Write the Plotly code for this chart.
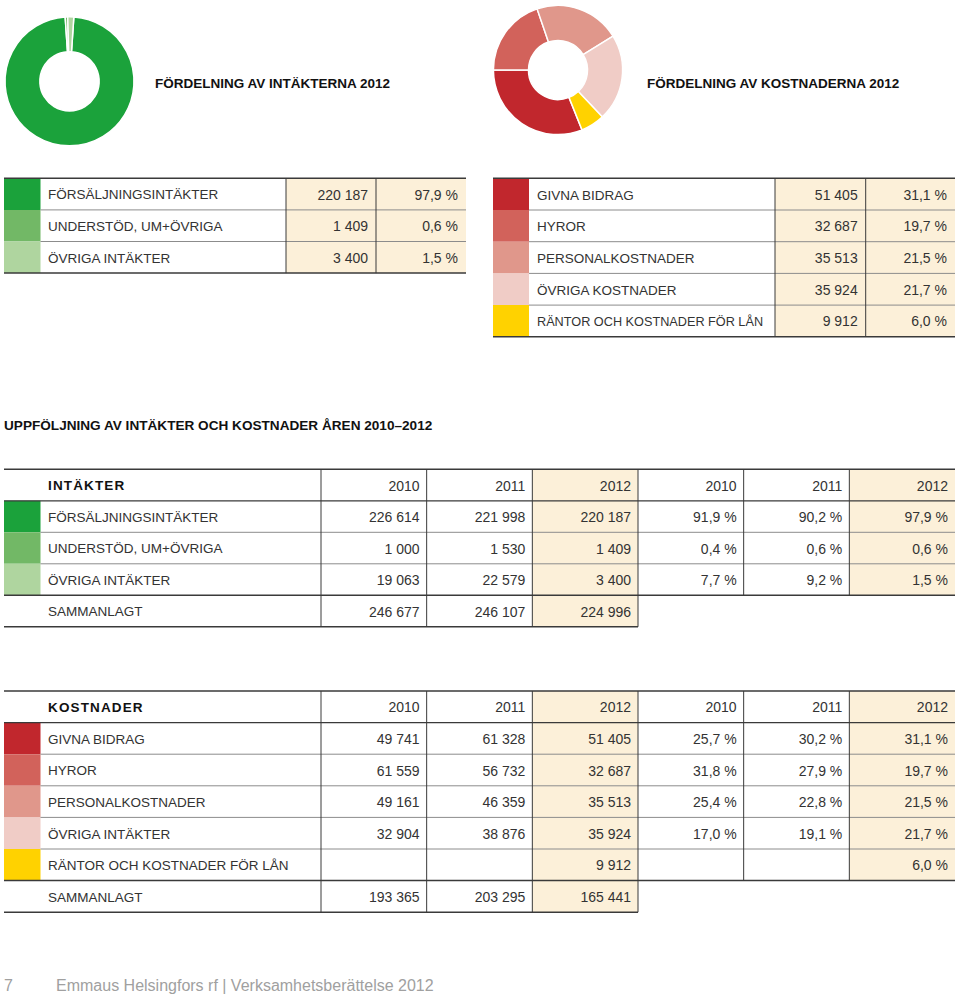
import plotly.graph_objects as go

# ---------------- data ----------------
inc_labels = ["FÖRSÄLJNINGSINTÄKTER", "UNDERSTÖD, UM+ÖVRIGA", "ÖVRIGA INTÄKTER"]
inc_colors = ["#1ba23b", "#72b866", "#afd59f"]
inc_2012 = [220187, 1409, 3400]
inc_pct_2012 = [97.9, 0.6, 1.5]

cost_labels = ["GIVNA BIDRAG", "HYROR", "PERSONALKOSTNADER", "ÖVRIGA KOSTNADER",
               "RÄNTOR OCH KOSTNADER FÖR LÅN"]
cost_colors = ["#c1272d", "#d2625b", "#e0978b", "#f0ccc6", "#ffd200"]
cost_2012 = [51405, 32687, 35513, 35924, 9912]
cost_pct_2012 = [31.1, 19.7, 21.5, 21.7, 6.0]

years = ["2010", "2011", "2012"]
inc_2010 = [226614, 1000, 19063]
inc_2011 = [221998, 1530, 22579]
inc_pct_2010 = [91.9, 0.4, 7.7]
inc_pct_2011 = [90.2, 0.6, 9.2]
inc_totals = [246677, 246107, 224996]

cost_hist_labels = ["GIVNA BIDRAG", "HYROR", "PERSONALKOSTNADER", "ÖVRIGA INTÄKTER",
                    "RÄNTOR OCH KOSTNADER FÖR LÅN"]
cost_2010 = [49741, 61559, 49161, 32904, None]
cost_2011 = [61328, 56732, 46359, 38876, None]
cost_pct_2010 = [25.7, 31.8, 25.4, 17.0, None]
cost_pct_2011 = [30.2, 27.9, 22.8, 19.1, None]
cost_totals = [193365, 203295, 165441]

title_inc = "FÖRDELNING AV INTÄKTERNA 2012"
title_cost = "FÖRDELNING AV KOSTNADERNA 2012"
title_hist = "UPPFÖLJNING AV INTÄKTER OCH KOSTNADER ÅREN 2010–2012"
hdr_inc = "INTÄKTER"
hdr_cost = "KOSTNADER"
total_label = "SAMMANLAGT"
footer_page = "7"
footer_text = "Emmaus Helsingfors rf | Verksamhetsberättelse 2012"

# ---------------- style / layout ----------------
W, H = 960, 995
DARK = "#3a3a3a"
GRAY = "#8c8c8c"
BEIGE = "#fcf0d9"
TXT = "#333333"
FONT = "Liberation Sans"
LBL_SIZE = 13.5
COND_SIZE = 12.7   # long labels condensed to fit the narrow 2012 tables
NUM_SIZE = 14
PAD = 8
TY = 2  # text vertical nudge


def fmt_n(v):
    return "" if v is None else f"{v:,}".replace(",", " ")


def fmt_p(v):
    return "" if v is None else f"{v:.1f} %".replace(".", ",")


shapes_fill, shapes_line = [], []
left_txt = {"x": [], "y": [], "t": [], "s": []}
right_txt = {"x": [], "y": [], "t": [], "s": []}
bold_txt = {"x": [], "y": [], "t": [], "s": []}


def rect(x0, x1, y0, y1, color):
    shapes_fill.append(dict(type="rect", xref="x", yref="y", x0=x0, x1=x1, y0=y0, y1=y1,
                            fillcolor=color, line=dict(width=0), layer="below"))


def hline(x0, x1, y, color, width):
    shapes_line.append(dict(type="line", xref="x", yref="y", x0=x0, x1=x1, y0=y, y1=y,
                            line=dict(color=color, width=width), layer="below"))


def vline(x, y0, y1, color, width):
    shapes_line.append(dict(type="line", xref="x", yref="y", x0=x, x1=x, y0=y0, y1=y1,
                            line=dict(color=color, width=width), layer="below"))


def put(store, x, y, t, size):
    if t == "":
        return
    store["x"].append(x)
    store["y"].append(y + TY)
    store["t"].append(t)
    store["s"].append(size)


def small_table(x0, xs, xl, cols, y0, rh, labels, colors, values, pcts):
    n = len(labels)
    y_end = y0 + n * rh
    rect(cols[0], cols[2], y0, y_end, BEIGE)
    for i, c in enumerate(colors):
        rect(x0, xs, y0 + i * rh, y0 + (i + 1) * rh, c)
    for i in range(1, n):
        hline(xs, cols[2], y0 + i * rh, GRAY, 1)
    hline(x0, cols[2], y0, DARK, 1.5)
    hline(x0, cols[2], y_end, DARK, 1.5)
    for c in cols[:2]:
        vline(c, y0, y_end, DARK, 1)
    for i in range(n):
        yc = y0 + (i + 0.5) * rh
        size = LBL_SIZE if len(labels[i]) <= 24 else COND_SIZE
        put(left_txt, xl, yc, labels[i], size)
        put(right_txt, cols[1] - PAD, yc, fmt_n(values[i]), NUM_SIZE)
        put(right_txt, cols[2] - PAD, yc, fmt_p(pcts[i]), NUM_SIZE)


def big_table(y0, rh, header, labels, colors, vals, pcts, totals):
    X0, XS, XL, C0, XR = 4, 40.5, 48, 321, 955
    cw = (XR - C0) / 6
    e = [C0 + k * cw for k in range(7)]
    n = len(labels)
    y_hdr = y0 + rh
    y_data = y0 + (n + 1) * rh
    y_tot = y0 + (n + 2) * rh
    rect(e[2], e[3], y0, y_tot, BEIGE)
    rect(e[5], e[6], y0, y_data, BEIGE)
    for i, c in enumerate(colors):
        rect(X0, XS, y_hdr + i * rh, y_hdr + (i + 1) * rh, c)
    hline(X0, XR, y0, DARK, 1.5)
    hline(X0, XR, y_hdr, DARK, 1.2)
    for i in range(1, n):
        hline(XS, XR, y_hdr + i * rh, GRAY, 1)
    hline(X0, XR, y_data, DARK, 1.5)
    hline(X0, e[3], y_tot, DARK, 1.5)
    for k in range(4):
        vline(e[k], y0, y_tot, DARK, 1)
    for k in (4, 5):
        vline(e[k], y0, y_data, DARK, 1)
    # header
    yc = y0 + rh / 2
    put(bold_txt, XL, yc, "\u200a".join(header), 13.5)
    for k in range(6):
        put(right_txt, e[k + 1] - PAD + 1, yc, years[k % 3], NUM_SIZE)
    for i in range(n):
        yc = y_hdr + (i + 0.5) * rh
        put(left_txt, XL, yc, labels[i], LBL_SIZE)
        for k in range(3):
            put(right_txt, e[k + 1] - PAD + 1, yc, fmt_n(vals[k][i]), NUM_SIZE)
            put(right_txt, e[k + 4] - PAD + 1, yc, fmt_p(pcts[k][i]), NUM_SIZE)
    yc = y_data + rh / 2
    put(left_txt, XL, yc, total_label, LBL_SIZE)
    for k in range(3):
        put(right_txt, e[k + 1] - PAD + 1, yc, fmt_n(totals[k]), NUM_SIZE)


small_table(4, 40.5, 48, [286, 376, 466], 178.3, 31.6,
            inc_labels, inc_colors, inc_2012, inc_pct_2012)
small_table(493, 529, 537, [775, 865.7, 955], 178.3, 31.7,
            cost_labels, cost_colors, cost_2012, cost_pct_2012)
big_table(469.3, 31.5, hdr_inc, inc_labels, inc_colors,
          [inc_2010, inc_2011, inc_2012], [inc_pct_2010, inc_pct_2011, inc_pct_2012], inc_totals)
big_table(691, 31.6, hdr_cost, cost_hist_labels, cost_colors,
          [cost_2010, cost_2011, cost_2012], [cost_pct_2010, cost_pct_2011, cost_pct_2012],
          cost_totals)

fig = go.Figure()

fig.add_trace(go.Scatter(x=left_txt["x"], y=left_txt["y"], text=left_txt["t"], mode="text",
                         textposition="middle right", hoverinfo="skip",
                         textfont=dict(family=FONT, size=left_txt["s"], color=TXT)))
fig.add_trace(go.Scatter(x=right_txt["x"], y=right_txt["y"], text=right_txt["t"], mode="text",
                         textposition="middle left", hoverinfo="skip",
                         textfont=dict(family=FONT, size=right_txt["s"], color=TXT)))
fig.add_trace(go.Scatter(x=bold_txt["x"], y=bold_txt["y"], text=bold_txt["t"], mode="text",
                         textposition="middle right", hoverinfo="skip",
                         textfont=dict(family=FONT, size=bold_txt["s"], color="#111111",
                                       weight="bold")))


# donuts
def dom(cx, cy, r):
    return dict(x=[(cx - r) / W, (cx + r) / W], y=[1 - (cy + r) / H, 1 - (cy - r) / H])


inc_share_rest = 1 - inc_2012[0] / sum(inc_2012)
fig.add_trace(go.Pie(values=inc_2012, labels=inc_labels, marker=dict(colors=inc_colors,
                     line=dict(color="white", width=1.5)), hole=0.46, sort=False,
                     direction="clockwise", rotation=360 * inc_share_rest / 2,
                     textinfo="none", hoverinfo="skip", domain=dom(69.5, 81.3, 64.5)))
cost_share_first = cost_2012[0] / sum(cost_2012)
fig.add_trace(go.Pie(values=cost_2012, labels=cost_labels, marker=dict(colors=cost_colors,
                     line=dict(color="white", width=1.5)), hole=0.457, sort=False,
                     direction="clockwise", rotation=270 - 360 * cost_share_first,
                     textinfo="none", hoverinfo="skip", domain=dom(558, 70, 64.6)))

annotations = [
    dict(text=f"<b>{title_inc}</b>", x=154, y=83.5, xanchor="left", yanchor="middle",
         font=dict(family=FONT, size=13.5, color="#111111")),
    dict(text=f"<b>{title_cost}</b>", x=646, y=83.5, xanchor="left", yanchor="middle",
         font=dict(family=FONT, size=13.5, color="#111111")),
    dict(text=f"<b>{title_hist}</b>", x=3, y=425.5, xanchor="left", yanchor="middle",
         font=dict(family=FONT, size=13.6, color="#111111")),
    dict(text=footer_page, x=3, y=985, xanchor="left", yanchor="middle",
         font=dict(family=FONT, size=16, color="#a0a0a0")),
    dict(text=footer_text, x=55, y=985, xanchor="left", yanchor="middle",
         font=dict(family=FONT, size=16, color="#a0a0a0")),
]
for a in annotations:
    a.update(xref="x", yref="y", showarrow=False, borderpad=0)

fig.update_layout(
    width=W, height=H, margin=dict(l=0, r=0, t=0, b=0),
    paper_bgcolor="white", plot_bgcolor="white", showlegend=False,
    xaxis=dict(range=[0, W], visible=False, fixedrange=True),
    yaxis=dict(range=[H, 0], visible=False, fixedrange=True),
    shapes=shapes_fill + shapes_line, annotations=annotations, hovermode=False,
)

fig.write_html("out.html", config={"displayModeBar": False, "staticPlot": True},
               post_script="document.body.style.margin='0';document.body.style.overflow='hidden';")
